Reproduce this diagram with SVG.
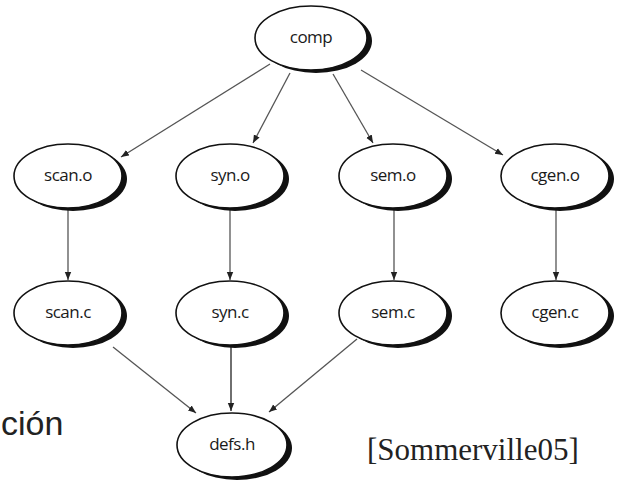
<svg xmlns="http://www.w3.org/2000/svg" width="618" height="485" viewBox="0 0 618 485">
<style>
.sh{fill:#111}
.nd{fill:#fff;stroke:#111;stroke-width:1.6}
.lb{font-family:"Open Sans","Liberation Sans",sans-serif;font-size:17px;fill:#1a1a1a;text-anchor:middle;letter-spacing:-0.5px}
.e{stroke:#555;stroke-width:1.3;fill:none;marker-end:url(#ah)}
</style>
<defs>
<marker id="ah" viewBox="0 0 10 10" refX="10" refY="5" markerWidth="8" markerHeight="8" markerUnits="userSpaceOnUse" orient="auto">
<path d="M0,1 L10,5 L0,9 z" fill="#222"/>
</marker>
</defs>
<rect width="618" height="485" fill="#fff"/>
<g id="connectors">
<line class="e" x1="270" y1="64" x2="121" y2="157"/>
<line class="e" x1="290" y1="73" x2="253" y2="143"/>
<line class="e" x1="333" y1="74" x2="373" y2="143"/>
<line class="e" x1="361" y1="70" x2="503" y2="155"/>
<line class="e" x1="68" y1="210" x2="68" y2="280"/>
<line class="e" x1="230" y1="210" x2="230" y2="280"/>
<line class="e" x1="394" y1="210" x2="394" y2="280"/>
<line class="e" x1="556" y1="210" x2="556" y2="280"/>
<line class="e" x1="113" y1="347" x2="196" y2="413"/>
<line class="e" x1="231" y1="347" x2="231" y2="411" style="stroke:#222"/>
<line class="e" x1="357" y1="339" x2="269" y2="412"/>
</g>
<g id="comp"><ellipse class="sh" cx="316" cy="41" rx="56" ry="32"/><ellipse class="nd" cx="311" cy="38" rx="56" ry="32"/><text class="lb" x="311" y="43">comp</text></g>
<g id="scan_o"><ellipse class="sh" cx="73" cy="179" rx="54" ry="32"/><ellipse class="nd" cx="68" cy="176" rx="54" ry="32"/><text class="lb" x="68" y="181">scan.o</text></g>
<g id="syn_o"><ellipse class="sh" cx="235" cy="179" rx="54" ry="32"/><ellipse class="nd" cx="230" cy="176" rx="54" ry="32"/><text class="lb" x="230" y="181">syn.o</text></g>
<g id="sem_o"><ellipse class="sh" cx="398" cy="179" rx="54" ry="32"/><ellipse class="nd" cx="393" cy="176" rx="54" ry="32"/><text class="lb" x="393" y="181">sem.o</text></g>
<g id="cgen_o"><ellipse class="sh" cx="560" cy="179" rx="54" ry="32"/><ellipse class="nd" cx="555" cy="176" rx="54" ry="32"/><text class="lb" x="555" y="181">cgen.o</text></g>
<g id="scan_c"><ellipse class="sh" cx="73" cy="316" rx="54" ry="32"/><ellipse class="nd" cx="68" cy="313" rx="54" ry="32"/><text class="lb" x="68" y="318">scan.c</text></g>
<g id="syn_c"><ellipse class="sh" cx="235" cy="316" rx="54" ry="32"/><ellipse class="nd" cx="230" cy="313" rx="54" ry="32"/><text class="lb" x="230" y="318">syn.c</text></g>
<g id="sem_c"><ellipse class="sh" cx="398" cy="316" rx="54" ry="32"/><ellipse class="nd" cx="393" cy="313" rx="54" ry="32"/><text class="lb" x="393" y="318">sem.c</text></g>
<g id="cgen_c"><ellipse class="sh" cx="560" cy="316" rx="54" ry="32"/><ellipse class="nd" cx="555" cy="313" rx="54" ry="32"/><text class="lb" x="555" y="318">cgen.c</text></g>
<g id="defs_h"><ellipse class="sh" cx="237" cy="448" rx="55" ry="32"/><ellipse class="nd" cx="232" cy="445" rx="55" ry="32"/><text class="lb" x="232" y="450">defs.h</text></g>
<text x="1" y="435" font-family="'Liberation Sans',Arial,sans-serif" font-size="34" fill="#222">ción</text>
<text x="367" y="460" font-family="'Liberation Serif','Times New Roman',serif" font-size="31" fill="#222">[Sommerville05]</text>
</svg>
